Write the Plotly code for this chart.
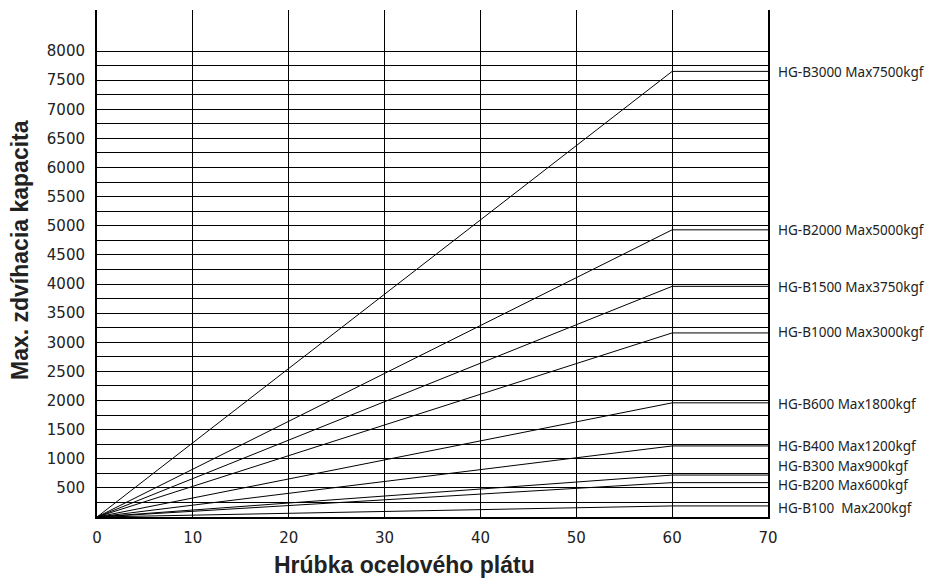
import plotly.graph_objects as go

# ---- data ----
models = ["HG-B3000", "HG-B2000", "HG-B1500", "HG-B1000", "HG-B600",
          "HG-B400", "HG-B300", "HG-B200", "HG-B100"]
label_texts = ["HG-B3000 Max7500kgf", "HG-B2000 Max5000kgf", "HG-B1500 Max3750kgf",
               "HG-B1000 Max3000kgf", "HG-B600 Max1800kgf", "HG-B400 Max1200kgf",
               "HG-B300 Max900kgf", "HG-B200 Max600kgf", "HG-B100  Max200kgf"]
plateau = [7650, 4930, 3960, 3160, 1960, 1220, 720, 590, 190]   # drawn capacity at 60 mm
label_y = [7640, 4930, 3950, 3180, 1940, 1220, 870, 545, 160]
thickness = [0, 60, 70]          # plate thickness points (mm)
x_ticks = [0, 10, 20, 30, 40, 50, 60, 70]
y_ticks = list(range(500, 8001, 500))
y_minor = list(range(250, 7751, 500))

# page body has an 8px margin; the figure is sized to fill the rest of the window
W, H = 927, 570
ML, MR, MT, MB = 89, 167, 2, 61
PW, PH = W - ML - MR, H - MT - MB

fig = go.Figure()
for m, p in zip(models, plateau):
    fig.add_trace(go.Scatter(x=thickness, y=[0, p, p], mode="lines", name=m,
                             line=dict(color="black", width=1), showlegend=False,
                             hoverinfo="skip"))

for t, yv in zip(label_texts, label_y):
    fig.add_annotation(x=1, xref="paper", y=yv, yref="y", text=t, showarrow=False,
                       xanchor="left", xshift=8, yanchor="middle",
                       font=dict(family="Noto Sans", size=13.5, color="#222"))

fig.add_annotation(x=(12 - ML) / PW, xref="paper", xanchor="center",
                   y=(PH + MT - 242) / PH, yref="paper", yanchor="middle",
                   text="<b>Max. zdvíhacia kapacita</b>", textangle=-90, showarrow=False,
                   font=dict(family="Liberation Sans", size=23, color="#222"))
fig.add_annotation(x=(396 - ML) / PW, xref="paper", xanchor="center",
                   y=0, yref="paper", yanchor="middle", yshift=-48,
                   text="<b>Hrúbka ocelového plátu</b>", showarrow=False,
                   font=dict(family="Liberation Sans", size=23, color="#222"))

fig.update_layout(
    width=W, height=H,
    margin=dict(l=ML, r=MR, t=MT, b=MB),
    paper_bgcolor="white", plot_bgcolor="white",
    xaxis=dict(range=[0, 70], tickvals=x_ticks, showgrid=True, gridcolor="black",
               gridwidth=1.3, showline=True, linecolor="black", linewidth=2,
               zeroline=False, ticks="", ticklabelstandoff=6, automargin=False,
               tickfont=dict(family="DejaVu Sans", size=15, color="#222")),
    yaxis=dict(range=[0, 8704], tickvals=y_ticks, showgrid=True, gridcolor="black",
               gridwidth=1.3, showline=True, mirror=True, linecolor="black", linewidth=2,
               zeroline=False, ticks="", ticklabelstandoff=7, automargin=False,
               tickfont=dict(family="DejaVu Sans", size=15, color="#222"),
               minor=dict(tickvals=y_minor, showgrid=True, gridcolor="black", gridwidth=1.3)),
)

fig.write_html("out.html")
